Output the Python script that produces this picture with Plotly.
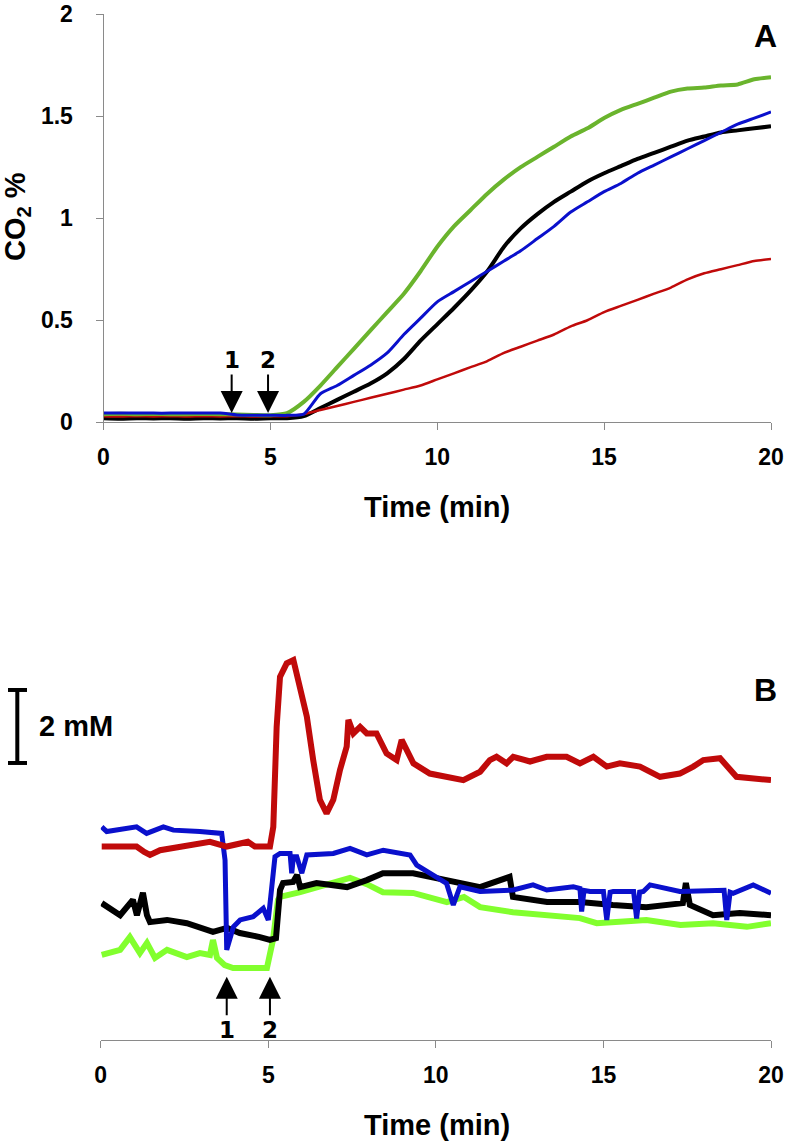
import plotly.graph_objects as go

# ---------------- Panel A data (CO2 %) ----------------
time_a = [i * 0.5 for i in range(41)]
co2_green = [0.040, 0.042, 0.040, 0.041, 0.040, 0.040, 0.041, 0.040, 0.038, 0.036, 0.035,
             0.045, 0.10, 0.18, 0.27, 0.36, 0.45, 0.54, 0.63, 0.74, 0.86,
             0.96, 1.04, 1.12, 1.19, 1.25, 1.30, 1.35, 1.40, 1.44, 1.49,
             1.53, 1.56, 1.59, 1.62, 1.635, 1.64, 1.65, 1.655, 1.68, 1.69]
co2_blue = [0.046, 0.045, 0.046, 0.045, 0.045, 0.046, 0.045, 0.045, 0.036, 0.035, 0.035,
            0.034, 0.040, 0.14, 0.18, 0.23, 0.28, 0.34, 0.43, 0.51, 0.59,
            0.64, 0.69, 0.74, 0.79, 0.84, 0.90, 0.96, 1.03, 1.08, 1.13,
            1.17, 1.22, 1.26, 1.30, 1.34, 1.38, 1.42, 1.46, 1.49, 1.52]
co2_black = [0.020, 0.018, 0.020, 0.019, 0.020, 0.018, 0.020, 0.019, 0.020, 0.018, 0.020,
             0.020, 0.030, 0.07, 0.11, 0.15, 0.19, 0.24, 0.31, 0.40, 0.48,
             0.56, 0.645, 0.74, 0.86, 0.95, 1.02, 1.08, 1.13, 1.18, 1.22,
             1.255, 1.29, 1.32, 1.35, 1.38, 1.40, 1.42, 1.43, 1.44, 1.45]
co2_red = [0.030, 0.028, 0.030, 0.029, 0.030, 0.028, 0.030, 0.029, 0.030, 0.028, 0.030,
           0.030, 0.040, 0.06, 0.08, 0.10, 0.12, 0.14, 0.16, 0.18, 0.21,
           0.24, 0.27, 0.30, 0.34, 0.37, 0.40, 0.43, 0.47, 0.50, 0.54,
           0.57, 0.60, 0.63, 0.66, 0.70, 0.73, 0.75, 0.77, 0.79, 0.80]

# ---------------- Panel B data (mM, arbitrary offset) ----------------
red_b_t = [0.03, 1.07, 1.3, 1.47, 1.77, 3.26, 3.76, 4.39, 4.6, 5.05, 5.15, 5.25, 5.35, 5.55, 5.75,
           5.95, 6.15, 6.34, 6.54, 6.74, 6.94, 7.14, 7.34, 7.39, 7.54, 7.74, 7.94, 8.23, 8.53,
           8.83, 8.98, 9.33, 9.62, 9.82, 10.82, 11.32, 11.61, 11.81, 12.11, 12.31, 12.81,
           13.31, 13.9, 14.3, 14.7, 15.1, 15.49, 16.09, 16.69, 17.28, 17.68, 17.98, 18.48,
           18.68, 18.97, 20.0]
red_b_v = [5.30, 5.30, 5.15, 5.07, 5.20, 5.43, 5.30, 5.43, 5.30, 5.30, 5.84, 8.58, 9.95, 10.32, 10.41,
           9.68, 8.86, 7.67, 6.58, 6.21, 6.58, 7.40, 8.04, 8.77, 8.40, 8.58, 8.40, 8.40, 7.85,
           7.67, 8.22, 7.58, 7.40, 7.30, 7.12, 7.35, 7.67, 7.76, 7.58, 7.76, 7.63,
           7.76, 7.76, 7.58, 7.76, 7.49, 7.58, 7.49, 7.21, 7.30, 7.49, 7.67, 7.72,
           7.49, 7.21, 7.12]

blue_b_t = [0.03, 0.18, 1.07, 1.37, 1.87, 2.17, 2.96, 3.61, 3.71, 3.76, 3.96, 4.16, 4.55, 4.85,
            5.0, 5.1, 5.2, 5.35, 5.65, 5.7, 5.75, 5.85, 6.0, 6.15, 6.94, 7.44, 7.94, 8.43, 9.23,
            9.43, 9.82, 10.32, 10.52, 10.72, 11.32, 12.31, 12.9, 13.31, 14.1, 14.3, 14.35, 14.42,
            14.6, 15.0, 15.1, 15.2, 15.29, 15.9, 15.99, 16.08, 16.19, 16.39, 17.28, 18.28,
            18.6, 18.68, 18.78, 18.87, 19.47, 20.0]
blue_b_v = [5.84, 5.71, 5.84, 5.66, 5.84, 5.75, 5.71, 5.66, 4.93, 2.47, 3.10, 3.29, 3.38, 3.61,
            3.29, 4.10, 5.02, 5.11, 5.11, 4.57, 5.02, 5.02, 4.57, 5.07, 5.11, 5.25, 5.07, 5.20, 5.07,
            4.79, 4.57, 4.29, 3.70, 4.20, 4.07, 4.11, 4.25, 4.11, 4.20, 4.15, 3.52, 4.10,
            4.07, 4.07, 3.29, 4.05, 4.07, 4.07, 3.33, 4.05, 4.07, 4.25, 4.07, 4.11,
            4.10, 3.29, 4.05, 4.02, 4.25, 4.02]

black_b_t = [0.03, 0.28, 0.58, 0.96, 1.08, 1.26, 1.38, 1.47, 1.98, 2.57, 2.96, 3.35, 3.77, 4.15,
             4.75, 5.05, 5.23, 5.35, 5.44, 5.74, 5.86, 5.95, 6.44, 6.94, 7.35, 7.94, 8.42, 9.32,
             10.33, 11.32, 12.2, 12.3, 13.32, 14.3, 15.28, 16.28, 17.37, 17.46, 17.58, 18.27,
             19.07, 20.0]
black_b_v = [3.75, 3.62, 3.42, 3.84, 3.42, 4.03, 3.42, 3.23, 3.29, 3.20, 3.10, 2.96, 3.07, 2.93,
             2.82, 2.74, 2.79, 4.11, 4.30, 4.33, 4.52, 4.19, 4.30, 4.25, 4.19, 4.38, 4.57, 4.57,
             4.38, 4.19, 4.47, 3.92, 3.78, 3.78, 3.70, 3.64, 3.75, 4.30, 3.70, 3.42,
             3.48, 3.42]

green_b_t = [0.03, 0.58, 0.87, 1.17, 1.38, 1.62, 1.98, 2.57, 2.96, 3.26, 3.35, 3.47, 3.70, 3.95,
             4.96, 5.14, 5.29, 5.35, 5.95, 6.44, 6.94, 7.44, 7.94, 8.42, 9.32, 10.33, 10.84,
             11.32, 12.30, 13.32, 14.30, 14.80, 16.28, 17.30, 18.27, 19.28, 20.0]
green_b_v = [2.33, 2.47, 2.82, 2.38, 2.66, 2.25, 2.47, 2.27, 2.38, 2.33, 2.74, 2.25, 2.05, 1.97,
             1.97, 2.74, 3.84, 3.92, 4.05, 4.19, 4.30, 4.44, 4.27, 4.05, 4.03, 3.78, 3.92,
             3.64, 3.50, 3.42, 3.34, 3.20, 3.29, 3.15, 3.20, 3.10, 3.20]

# annotation data
arrow_labels = ["1", "2"]
arrow_x_a = [3.84, 4.93]
arrow_tip_a = 0.045
arrow_x_b = [3.76, 5.05]
arrow_tip_b = 1.73
scale_bar_mM = 2.0
scale_bar_base = 7.59

x_ticks = [0, 5, 10, 15, 20]
y_ticks_a = [0, 0.5, 1, 1.5, 2]
y_ticklabels_a = ["0", "0.5", "1", "1.5", "2"]

GREEN_A = "#6AB42D"
LIME_B = "#82FF2E"
BLUE = "#0A10CC"
RED = "#C00A0A"
BLACK = "#000000"

W, H = 787, 1145


def fx(px):
    return px / W


def fy(py):
    return 1 - py / H


fig = go.Figure()

spl = dict(shape="spline", smoothing=0.6)
# Panel A traces
fig.add_trace(go.Scatter(x=time_a, y=co2_black, mode="lines", line=dict(color=BLACK, width=4, **spl), xaxis="x", yaxis="y"))
fig.add_trace(go.Scatter(x=time_a, y=co2_red, mode="lines", line=dict(color=RED, width=2.5, **spl), xaxis="x", yaxis="y"))
fig.add_trace(go.Scatter(x=time_a, y=co2_green, mode="lines", line=dict(color=GREEN_A, width=4, **spl), xaxis="x", yaxis="y"))
fig.add_trace(go.Scatter(x=time_a, y=co2_blue, mode="lines", line=dict(color=BLUE, width=3, **spl), xaxis="x", yaxis="y"))

# Panel B traces
fig.add_trace(go.Scatter(x=green_b_t, y=green_b_v, mode="lines", line=dict(color=LIME_B, width=6), xaxis="x2", yaxis="y2"))
fig.add_trace(go.Scatter(x=black_b_t, y=black_b_v, mode="lines", line=dict(color=BLACK, width=6), xaxis="x2", yaxis="y2"))
fig.add_trace(go.Scatter(x=blue_b_t, y=blue_b_v, mode="lines", line=dict(color=BLUE, width=5), xaxis="x2", yaxis="y2"))
fig.add_trace(go.Scatter(x=red_b_t, y=red_b_v, mode="lines", line=dict(color=RED, width=6), xaxis="x2", yaxis="y2"))

tickfont = dict(family="Liberation Sans, Arial", size=23, color="black", weight="bold")
axis_common = dict(showline=True, linecolor="#8a8a8a", linewidth=1, ticks="outside", ticklen=7,
                   tickcolor="#8a8a8a", showgrid=False, zeroline=False, tickfont=tickfont,
                   automargin=False)

fig.update_layout(
    width=W, height=H, margin=dict(l=0, r=0, t=0, b=0, pad=0, autoexpand=False),
    paper_bgcolor="white", plot_bgcolor="white", showlegend=False,
    xaxis=dict(domain=[fx(103.5), fx(771)], range=[0, 20], tickvals=x_ticks, anchor="y",
               ticklabelstandoff=7, **axis_common),
    yaxis=dict(domain=[fy(422.3), fy(14)], range=[0, 2], tickvals=y_ticks_a,
               ticktext=y_ticklabels_a, anchor="x", ticklabelstandoff=18, **axis_common),
    xaxis2=dict(domain=[fx(100.7), fx(771)], range=[0, 20], tickvals=x_ticks, anchor="y2",
                ticklabelstandoff=7, **axis_common),
    yaxis2=dict(domain=[fy(1040), fy(602)], range=[0, 12], anchor="x2", visible=False),
)

title_font = dict(family="Liberation Sans, Arial", size=29, color="black", weight="bold")
label_font = dict(family="Liberation Sans, Arial", size=32, color="black", weight="bold")
annotations = [
    dict(text="CO<sub>2</sub> %", xref="paper", yref="paper", x=fx(17), y=fy(217),
         textangle=-90, showarrow=False, font=title_font, xanchor="center", yanchor="middle"),
    dict(text="Time (min)", xref="paper", yref="paper", x=fx(437), y=fy(507),
         showarrow=False, font=title_font, xanchor="center", yanchor="middle"),
    dict(text="Time (min)", xref="paper", yref="paper", x=fx(437), y=fy(1125),
         showarrow=False, font=title_font, xanchor="center", yanchor="middle"),
    dict(text="A", xref="paper", yref="paper", x=fx(765), y=fy(36), showarrow=False,
         font=label_font, xanchor="center", yanchor="middle"),
    dict(text="B", xref="paper", yref="paper", x=fx(765), y=fy(690), showarrow=False,
         font=label_font, xanchor="center", yanchor="middle"),
    dict(text="2 mM", xref="paper", yref="y2", x=fx(37), y=scale_bar_base + scale_bar_mM / 2,
         showarrow=False, font=title_font, xanchor="left", yanchor="middle"),
]
arrow_font = dict(family="DejaVu Sans", size=23, color="black", weight="bold")
for lab, xv in zip(arrow_labels, arrow_x_a):
    annotations.append(dict(text=lab, x=xv, y=arrow_tip_a, xref="x", yref="y", showarrow=True,
                            arrowhead=2, arrowsize=2.2, arrowwidth=2, arrowcolor="black",
                            ax=0, ay=-53, font=arrow_font))
for lab, xv in zip(arrow_labels, arrow_x_b):
    annotations.append(dict(text=lab, x=xv, y=arrow_tip_b, xref="x2", yref="y2", showarrow=True,
                            arrowhead=2, arrowsize=2.2, arrowwidth=2, arrowcolor="black",
                            ax=0, ay=53, font=arrow_font))
fig.update_layout(annotations=annotations)

# scale bar (2 mM) in panel B units
shapes = [
    dict(type="line", xref="paper", yref="y2", x0=fx(17.3), x1=fx(17.3),
         y0=scale_bar_base, y1=scale_bar_base + scale_bar_mM, line=dict(color="black", width=4)),
    dict(type="line", xref="paper", yref="y2", x0=fx(8), x1=fx(27),
         y0=scale_bar_base, y1=scale_bar_base, line=dict(color="black", width=4)),
    dict(type="line", xref="paper", yref="y2", x0=fx(8), x1=fx(27),
         y0=scale_bar_base + scale_bar_mM, y1=scale_bar_base + scale_bar_mM,
         line=dict(color="black", width=4)),
]
fig.update_layout(shapes=shapes)

# remove the default 8px page margin so the 787x1145 figure fills the window exactly
fig.write_html("out.html", config={"displayModeBar": False},
               post_script="document.body.style.margin='0px';")
